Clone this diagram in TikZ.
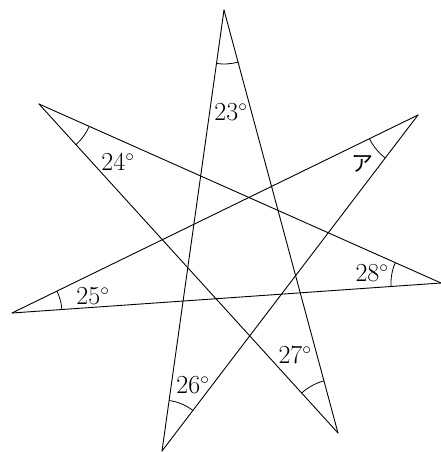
\documentclass[tikz,border=0pt]{standalone}
\usepackage{fontspec}
\newfontfamily\jpfont{Noto Sans CJK JP}
\usetikzlibrary{angles}
\begin{document}
\begin{tikzpicture}[x=1pt,y=1pt,
  edge/.style={line width=0.9pt, line cap=round},
  arcmark/.style={draw, line width=0.8pt},
  lbl/.style={inner sep=0pt, font=\fontsize{26}{30}\selectfont}]
\useasboundingbox (0,0) rectangle (441,-452);
\coordinate (T) at (224,-10);
\coordinate (UL) at (39,-104);
\coordinate (UR) at (418,-115);
\coordinate (R) at (441,-283);
\coordinate (L) at (12,-313);
\coordinate (BL) at (162,-451);
\coordinate (BR) at (338,-433);
\draw[edge] (T) -- (BL);
\draw[edge] (T) -- (BR);
\draw[edge] (UL) -- (R);
\draw[edge] (UL) -- (BR);
\draw[edge] (UR) -- (L);
\draw[edge] (UR) -- (BL);
\draw[edge] (L) -- (R);
\pic[arcmark, angle radius=54pt] {angle = BL--T--BR};
\pic[arcmark, angle radius=55pt] {angle = BR--UL--R};
\pic[arcmark, angle radius=54pt] {angle = L--UR--BL};
\pic[arcmark, angle radius=50pt] {angle = UL--R--L};
\pic[arcmark, angle radius=50pt] {angle = R--L--UR};
\pic[arcmark, angle radius=51pt] {angle = UR--BL--T};
\pic[arcmark, angle radius=54pt] {angle = T--BR--UL};
\node[lbl] (a23) at (231,-112) {23$^\circ$};
\node[lbl] (a24) at (118,-162) {24$^\circ$};
\node[lbl] (aa) at (362,-164) {\jpfont\fontsize{22}{26}\selectfont ア};
\node[lbl] (a28) at (372,-273) {28$^\circ$};
\node[lbl] (a25) at (93,-296) {25$^\circ$};
\node[lbl] (a26) at (193,-385) {26$^\circ$};
\node[lbl] (a27) at (295,-355) {27$^\circ$};
\end{tikzpicture}
\end{document}
